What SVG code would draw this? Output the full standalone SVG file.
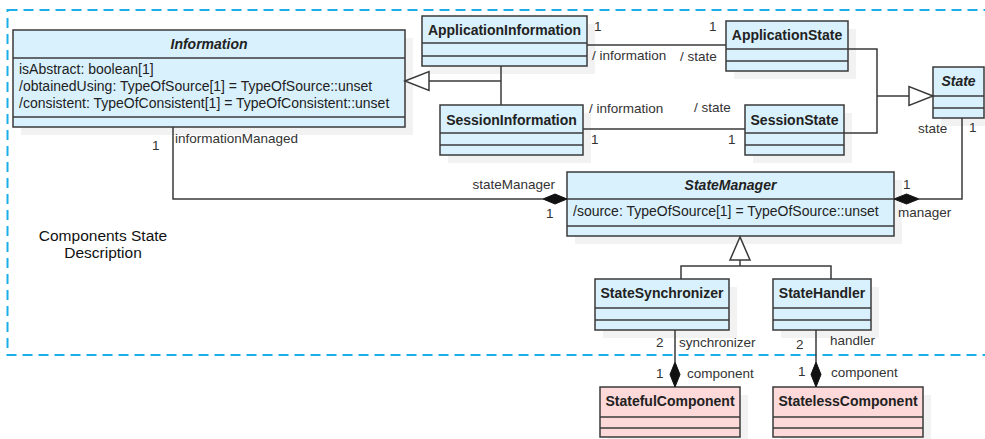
<svg xmlns="http://www.w3.org/2000/svg" width="985" height="439" viewBox="0 0 985 439">
  <style>
    .frame { fill: none; stroke: #1aaeea; stroke-width: 2; stroke-dasharray: 10 6; }
    .shadow { fill: #f2f2f2; stroke: none; }
    .cls { fill: #d9f1fd; stroke: #3a3a3a; stroke-width: 1.5; }
    .comp { fill: #fdd9d9; stroke: #3a3a3a; stroke-width: 1.5; }
    .sep { stroke: #3a3a3a; stroke-width: 1.5; }
    .title { font-family: "Liberation Sans", Arial, sans-serif; font-size: 14px; font-weight: bold; fill: #222; text-anchor: middle; }
    .abstract { font-style: italic; }
    .attr { font-family: "Liberation Sans", Arial, sans-serif; font-size: 14px; fill: #222; }
    .lbl { font-family: "Liberation Sans", Arial, sans-serif; font-size: 13.5px; fill: #333; }
    .note { font-family: "Liberation Sans", Arial, sans-serif; font-size: 15.5px; fill: #111; text-anchor: middle; }
    .edge { fill: none; stroke: #3a3a3a; stroke-width: 1.5; }
    .hollow { fill: #ffffff; stroke: #3a3a3a; stroke-width: 1.5; }
    .solid { fill: #111; stroke: #111; stroke-width: 1; }
  </style>

  <!-- package frame -->
  <rect class="frame" x="7.5" y="10" width="1000" height="345"/>
  <text class="note" x="103" y="241">Components State</text>
  <text class="note" x="103" y="258">Description</text>

  <!-- classes -->
  <g id="Information">
    <rect class="shadow" x="21" y="38" width="392" height="97"/>
    <rect class="cls" x="13" y="30" width="392" height="97"/>
    <line class="sep" x1="13" y1="58" x2="405" y2="58"/>
    <line class="sep" x1="13" y1="117" x2="405" y2="117"/>
    <text class="title abstract" x="209" y="49">Information</text>
    <text class="attr" x="19" y="74">isAbstract: boolean[1]</text>
    <text class="attr" x="19" y="91">/obtainedUsing: TypeOfSource[1] = TypeOfSource::unset</text>
    <text class="attr" x="19" y="108">/consistent: TypeOfConsistent[1] = TypeOfConsistent::unset</text>
  </g>

  <g id="ApplicationInformation">
    <rect class="shadow" x="430" y="24" width="165" height="50"/>
    <rect class="cls" x="422" y="16" width="165" height="50"/>
    <line class="sep" x1="422" y1="43" x2="587" y2="43"/>
    <line class="sep" x1="422" y1="56" x2="587" y2="56"/>
    <text class="title" x="504.5" y="35">ApplicationInformation</text>
  </g>

  <g id="SessionInformation">
    <rect class="shadow" x="448" y="113" width="143" height="50"/>
    <rect class="cls" x="440" y="105" width="143" height="50"/>
    <line class="sep" x1="440" y1="133" x2="583" y2="133"/>
    <line class="sep" x1="440" y1="145" x2="583" y2="145"/>
    <text class="title" x="511.5" y="125">SessionInformation</text>
  </g>

  <g id="ApplicationState">
    <rect class="shadow" x="734" y="29" width="122" height="50"/>
    <rect class="cls" x="726" y="21" width="122" height="50"/>
    <line class="sep" x1="726" y1="49" x2="848" y2="49"/>
    <line class="sep" x1="726" y1="61" x2="848" y2="61"/>
    <text class="title" x="787" y="40">ApplicationState</text>
  </g>

  <g id="SessionState">
    <rect class="shadow" x="753" y="113" width="99" height="50"/>
    <rect class="cls" x="745" y="105" width="99" height="50"/>
    <line class="sep" x1="745" y1="133" x2="844" y2="133"/>
    <line class="sep" x1="745" y1="145" x2="844" y2="145"/>
    <text class="title" x="794.5" y="125">SessionState</text>
  </g>

  <g id="State">
    <rect class="shadow" x="941" y="75" width="51" height="51"/>
    <rect class="cls" x="933" y="67" width="51" height="51"/>
    <line class="sep" x1="933" y1="96" x2="984" y2="96"/>
    <line class="sep" x1="933" y1="108" x2="984" y2="108"/>
    <text class="title abstract" x="958.5" y="86">State</text>
  </g>

  <g id="StateManager">
    <rect class="shadow" x="575" y="180" width="327" height="64"/>
    <rect class="cls" x="567" y="172" width="327" height="64"/>
    <line class="sep" x1="567" y1="199" x2="894" y2="199"/>
    <line class="sep" x1="567" y1="226" x2="894" y2="226"/>
    <text class="title abstract" x="730.5" y="190">StateManager</text>
    <text class="attr" x="573" y="216">/source: TypeOfSource[1] = TypeOfSource::unset</text>
  </g>

  <g id="StateSynchronizer">
    <rect class="shadow" x="603" y="287" width="134" height="51"/>
    <rect class="cls" x="595" y="279" width="134" height="51"/>
    <line class="sep" x1="595" y1="308" x2="729" y2="308"/>
    <line class="sep" x1="595" y1="320" x2="729" y2="320"/>
    <text class="title" x="662" y="298">StateSynchronizer</text>
  </g>

  <g id="StateHandler">
    <rect class="shadow" x="781" y="287" width="98" height="51"/>
    <rect class="cls" x="773" y="279" width="98" height="51"/>
    <line class="sep" x1="773" y1="308" x2="871" y2="308"/>
    <line class="sep" x1="773" y1="320" x2="871" y2="320"/>
    <text class="title" x="822" y="298">StateHandler</text>
  </g>

  <g id="StatefulComponent">
    <rect class="shadow" x="608" y="395" width="140" height="50"/>
    <rect class="comp" x="600" y="387" width="140" height="50"/>
    <line class="sep" x1="600" y1="417" x2="740" y2="417"/>
    <line class="sep" x1="600" y1="428" x2="740" y2="428"/>
    <text class="title" x="670" y="406">StatefulComponent</text>
  </g>

  <g id="StatelessComponent">
    <rect class="shadow" x="781" y="395" width="150" height="50"/>
    <rect class="comp" x="773" y="387" width="150" height="50"/>
    <line class="sep" x1="773" y1="417" x2="923" y2="417"/>
    <line class="sep" x1="773" y1="428" x2="923" y2="428"/>
    <text class="title" x="848" y="406">StatelessComponent</text>
  </g>

  <!-- connectors -->
  <g id="connectors">
    <!-- generalization: ApplicationInformation / SessionInformation -> Information -->
    <polyline class="edge" points="501,66 501,105"/>
    <polyline class="edge" points="501,81 429,81"/>
    <polygon class="hollow" points="405,81 429,71.5 429,90.5"/>

    <!-- generalization: ApplicationState / SessionState -> State -->
    <polyline class="edge" points="848,49 877,49 877,133 844,133"/>
    <polyline class="edge" points="877,96 909,96"/>
    <polygon class="hollow" points="933,96 909,86.5 909,105.5"/>

    <!-- ApplicationInformation — ApplicationState -->
    <line class="edge" x1="587" y1="45" x2="726" y2="45"/>
    <text class="lbl" x="594" y="31">1</text>
    <text class="lbl" x="709" y="31">1</text>
    <text class="lbl" x="592" y="60">/ information</text>
    <text class="lbl" x="680" y="61">/ state</text>

    <!-- SessionInformation — SessionState -->
    <line class="edge" x1="583" y1="129" x2="745" y2="129"/>
    <text class="lbl" x="589" y="113">/ information</text>
    <text class="lbl" x="694" y="112">/ state</text>
    <text class="lbl" x="591" y="144">1</text>
    <text class="lbl" x="728" y="144">1</text>

    <!-- Information — StateManager (composition) -->
    <polyline class="edge" points="173,127 173,199 543,199"/>
    <polygon class="solid" points="567,199 555,194 543,199 555,204"/>
    <text class="lbl" x="175" y="143">informationManaged</text>
    <text class="lbl" x="152" y="150">1</text>
    <text class="lbl" x="555" y="189" text-anchor="end">stateManager</text>
    <text class="lbl" x="546" y="218">1</text>

    <!-- State — StateManager (composition) -->
    <polyline class="edge" points="962,118 962,199 919,199"/>
    <polygon class="solid" points="894,199 906.5,194 919,199 906.5,204"/>
    <text class="lbl" x="918" y="133">state</text>
    <text class="lbl" x="969" y="132">1</text>
    <text class="lbl" x="903" y="189">1</text>
    <text class="lbl" x="898" y="217">manager</text>

    <!-- generalization: StateSynchronizer / StateHandler -> StateManager -->
    <polyline class="edge" points="681,279 681,266 831,266 831,279"/>
    <line class="edge" x1="740" y1="266" x2="740" y2="260"/>
    <polygon class="hollow" points="740,237 730,260 750,260"/>

    <!-- StateSynchronizer — StatefulComponent (composition) -->
    <line class="edge" x1="675" y1="330" x2="675" y2="362"/>
    <polygon class="solid" points="675,387 670,374.5 675,362 680,374.5"/>
    <text class="lbl" x="656" y="347">2</text>
    <text class="lbl" x="679" y="347">synchronizer</text>
    <text class="lbl" x="656" y="378">1</text>
    <text class="lbl" x="687" y="378">component</text>

    <!-- StateHandler — StatelessComponent (composition) -->
    <line class="edge" x1="816" y1="330" x2="816" y2="362"/>
    <polygon class="solid" points="816,387 811,374.5 816,362 821,374.5"/>
    <text class="lbl" x="796" y="349">2</text>
    <text class="lbl" x="830" y="345">handler</text>
    <text class="lbl" x="798" y="376">1</text>
    <text class="lbl" x="831" y="377">component</text>
  </g>
</svg>
